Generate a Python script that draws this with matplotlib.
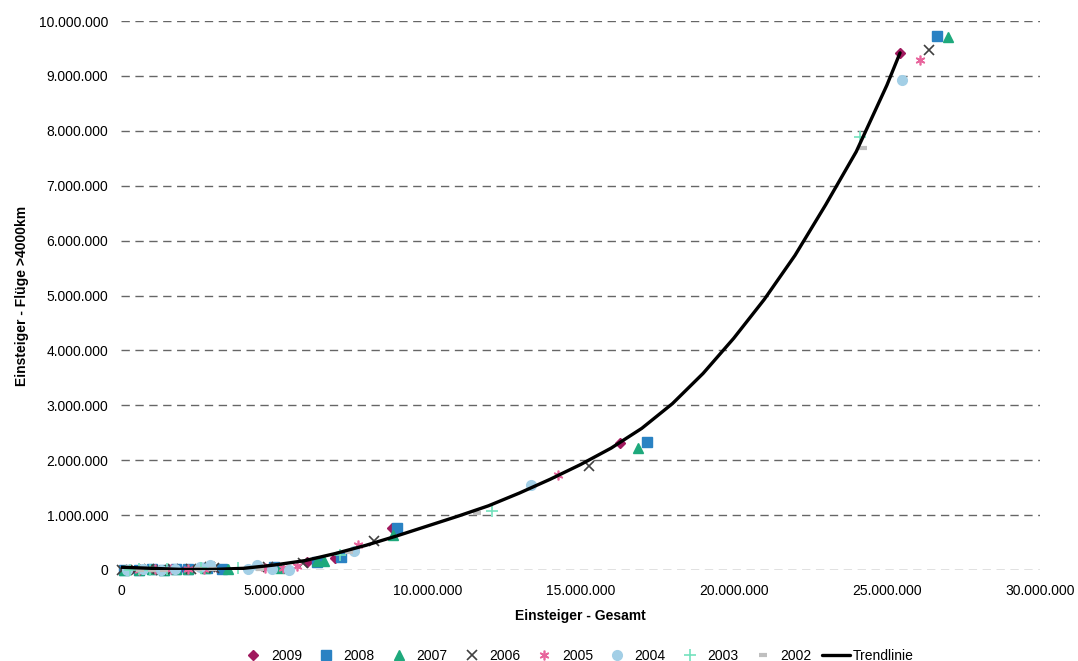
import numpy as np
import matplotlib
matplotlib.use("Agg")
import matplotlib.pyplot as plt
from matplotlib.ticker import FuncFormatter, MultipleLocator

plt.rcParams['font.family'] = ['Liberation Sans', 'DejaVu Sans']

# values in millions of passengers (x: Einsteiger gesamt, y: Einsteiger Flüge >4000km)
x_2009 = [0.1, 0.5, 0.9, 1.3, 1.7, 2.1, 2.7, 3.2, 4.9, 6.07, 6.99, 8.85, 16.29, 25.43]
y_2009 = [0.0, 0.0, 0.01, 0.0, 0.01, 0.02, 0.03, 0.02, 0.05, 0.15, 0.22, 0.77, 2.31, 9.42]
x_2008 = [0.1, 0.6, 1.0, 1.4, 1.8, 2.2, 2.8, 3.3, 5.0, 6.4, 7.18, 9.01, 17.17, 26.64]
y_2008 = [0.0, 0.0, 0.01, 0.0, 0.01, 0.02, 0.03, 0.02, 0.05, 0.15, 0.24, 0.77, 2.33, 9.73]
x_2007 = [0.1, 0.6, 1.0, 1.4, 1.8, 2.2, 2.75, 3.5, 5.2, 6.4, 6.63, 8.88, 16.88, 27.0]
y_2007 = [0.0, 0.0, 0.01, 0.0, 0.01, 0.02, 0.03, 0.02, 0.04, 0.17, 0.16, 0.64, 2.22, 9.71]
x_2006 = [0.05, 0.5, 0.9, 1.3, 1.7, 2.3, 2.9, 3.05, 4.8, 5.95, 8.26, 15.28, 26.38]
y_2006 = [0.0, 0.0, 0.01, 0.0, 0.01, 0.02, 0.06, 0.03, 0.05, 0.13, 0.53, 1.89, 9.47]
x_2005 = [0.2, 0.6, 1.1, 1.62, 2.2, 2.7, 4.7, 5.3, 5.75, 7.74, 14.27, 26.09]
y_2005 = [0.0, 0.0, 0.01, 0.01, 0.02, 0.02, 0.03, 0.04, 0.08, 0.45, 1.73, 9.29]
x_2004 = [0.2, 0.72, 1.3, 1.76, 2.58, 2.9, 4.15, 4.43, 4.92, 5.49, 7.6, 13.38, 25.5]
y_2004 = [0.0, 0.01, 0.0, 0.01, 0.05, 0.09, 0.02, 0.09, 0.02, 0.0, 0.34, 1.55, 8.93]
x_2003 = [0.3, 0.6, 0.95, 1.5, 2.6, 3.83, 7.15, 12.12, 24.13]
y_2003 = [0.0, 0.01, 0.0, 0.01, 0.04, 0.03, 0.27, 1.08, 7.89]
x_2002 = [0.62, 1.0, 1.4, 2.5, 3.0, 4.54, 7.43, 11.62, 24.22]
y_2002 = [0.0, 0.0, 0.0, 0.02, 0.01, 0.02, 0.33, 1.03, 7.69]

# trendline
x_trend = [0, 1, 2, 3, 4, 5, 6, 7, 8, 9, 10, 11, 12, 13, 14, 15, 16, 17, 18, 19, 20,
           21, 22, 23, 24, 25, 25.43]
y_trend = [0.05, 0.03, 0.01, 0.01, 0.03, 0.09, 0.17, 0.30, 0.45, 0.62, 0.80, 0.98, 1.17,
           1.40, 1.65, 1.92, 2.22, 2.58, 3.03, 3.58, 4.22, 4.93, 5.73, 6.65, 7.62, 8.83,
           9.42]

series = [
    ("2009", x_2009, y_2009, dict(marker="D", color="#A0195E", ms=5.5)),
    ("2008", x_2008, y_2008, dict(marker="s", color="#2A82C3", ms=6.5)),
    ("2007", x_2007, y_2007, dict(marker="^", color="#1EA97C", ms=7.5)),
    ("2006", x_2006, y_2006, dict(marker="x", color="#404040", ms=7, mew=1.2)),
    ("2005", x_2005, y_2005, dict(marker=(6, 2, 0), color="#E8649C", ms=7, mew=1.2)),
    ("2004", x_2004, y_2004, dict(marker="o", color="#A3CFE6", ms=7)),
    ("2003", x_2003, y_2003, dict(marker="+", color="#74E2BE", ms=8, mew=1.2)),
    ("2002", x_2002, y_2002, dict(marker="_", color="#BFBFBF", ms=6, mew=3)),
]

fig = plt.figure(figsize=(10.78, 6.61), dpi=100)
ax = fig.add_axes([0.1122, 0.1377, 0.8526, 0.8305])

for label, xs, ys, st in series:
    ax.plot(np.array(xs) * 1e6, np.array(ys) * 1e6, linestyle="none", label=label,
            clip_on=False, zorder=3, **st)

ax.plot(np.array(x_trend) * 1e6, np.array(y_trend) * 1e6, color="black", lw=2.4,
        label="Trendlinie", zorder=4, solid_capstyle="round", solid_joinstyle="round")

ax.set_xlim(0, 30e6)
ax.set_ylim(0, 10e6)
ax.xaxis.set_major_locator(MultipleLocator(5e6))
ax.yaxis.set_major_locator(MultipleLocator(1e6))
fmt = FuncFormatter(lambda v, p: f"{int(round(v)):,}".replace(",", "."))
ax.xaxis.set_major_formatter(fmt)
ax.yaxis.set_major_formatter(fmt)
ax.tick_params(length=0, labelsize=10)
ax.tick_params(axis="y", pad=9)
ax.tick_params(axis="x", pad=10)
for s in ax.spines.values():
    s.set_visible(False)
ax.grid(axis="y", color="#666666", linestyle=(0, (6, 4)), lw=1)
ax.set_axisbelow(True)

ax.set_xlabel("Einsteiger - Gesamt", fontsize=10, fontweight="bold", labelpad=8)
ax.set_ylabel("Einsteiger - Flüge >4000km", fontsize=10, fontweight="bold", labelpad=7)

fig.legend(loc="lower center", bbox_to_anchor=(0.535, -0.022), ncol=9, frameon=False,
           fontsize=10, handlelength=2.0, handletextpad=0.25, columnspacing=0.75,
           numpoints=1)

fig.savefig("out.png", dpi=100)
